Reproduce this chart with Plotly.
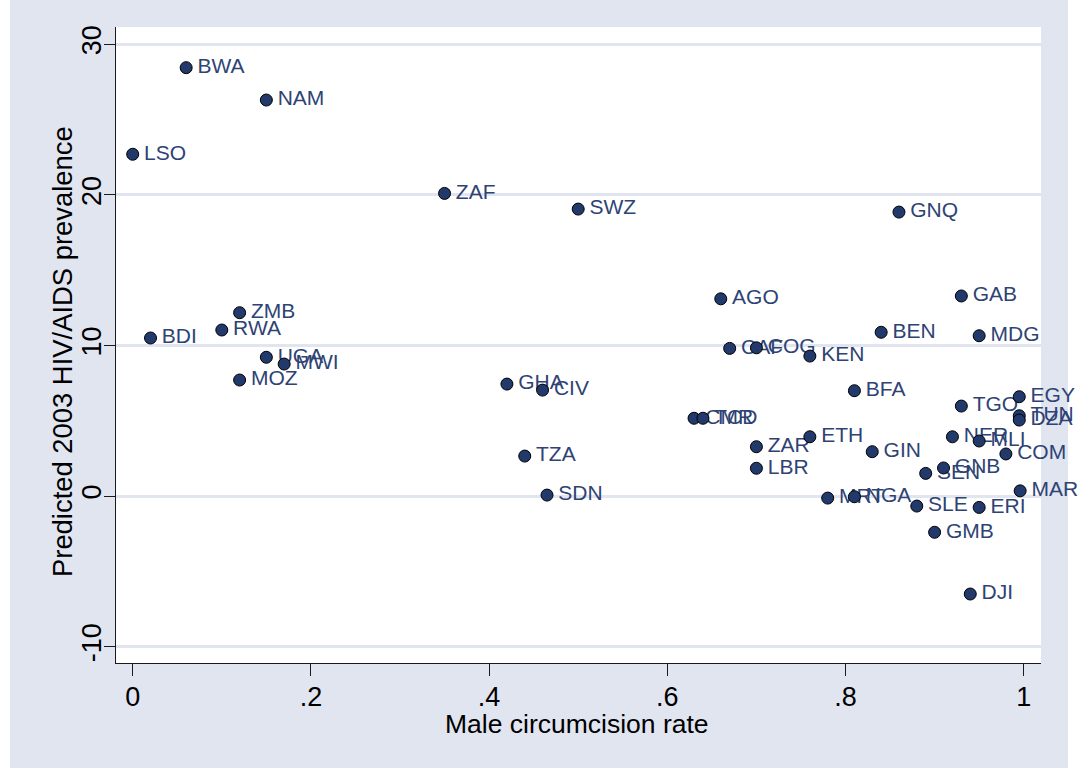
import plotly.graph_objects as go

# Country codes, male circumcision rate, predicted 2003 HIV/AIDS prevalence
countries = ["LSO", "BWA", "NAM", "ZAF", "SWZ", "GNQ", "BDI", "ZMB", "RWA", "UGA",
             "MWI", "MOZ", "GHA", "CIV", "TZA", "SDN", "AGO", "CAF", "COG", "KEN",
             "BEN", "MDG", "GAB", "BFA", "CMR", "TCD", "ZAR", "LBR", "ETH", "GIN",
             "MRT", "NGA", "EGY", "TUN", "DZA", "TGO", "NER", "MLI", "COM", "GNB",
             "SEN", "MAR", "SLE", "ERI", "GMB", "DJI"]
circ_rate = [0.00, 0.06, 0.15, 0.35, 0.50, 0.86, 0.02, 0.12, 0.10, 0.15,
             0.17, 0.12, 0.42, 0.46, 0.44, 0.465, 0.66, 0.67, 0.70, 0.76,
             0.84, 0.95, 0.93, 0.81, 0.63, 0.64, 0.70, 0.70, 0.76, 0.83,
             0.78, 0.81, 0.995, 0.995, 0.995, 0.93, 0.92, 0.95, 0.98, 0.91,
             0.89, 0.996, 0.88, 0.95, 0.90, 0.94]
hiv_pred = [22.7, 28.45, 26.3, 20.1, 19.06, 18.86, 10.5, 12.18, 11.03, 9.22,
            8.77, 7.71, 7.44, 7.04, 2.66, 0.07, 13.1, 9.81, 9.85, 9.3,
            10.88, 10.65, 13.29, 7.0, 5.17, 5.17, 3.28, 1.85, 3.94, 2.95,
            -0.13, -0.04, 6.6, 5.34, 5.05, 5.98, 3.94, 3.66, 2.8, 1.87,
            1.51, 0.35, -0.66, -0.75, -2.4, -6.5]

x_ticks = [0, 0.2, 0.4, 0.6, 0.8, 1.0]
x_ticklabels = ["0", ".2", ".4", ".6", ".8", "1"]
y_ticks = [-10, 0, 10, 20, 30]
y_ticklabels = ["-10", "0", "10", "20", "30"]
x_title = "Male circumcision rate"
y_title = "Predicted 2003 HIV/AIDS prevalence"

BG = "#E1E5F0"
GRID = "#E1E5F0"
MARKER = "#22396b"
LABEL = "#2e4374"
AXFONT = "Liberation Sans, Arial, sans-serif"
TICKSIZE = 27

fig = go.Figure()

# labels (transparent marker sets the text offset)
fig.add_trace(go.Scatter(
    x=circ_rate, y=hiv_pred, text=countries, mode="markers+text",
    textposition="middle right",
    textfont=dict(family="Liberation Sans, Arial, sans-serif", size=21, color=LABEL),
    marker=dict(size=16.5, color="rgba(0,0,0,0)", line=dict(width=0)),
    hoverinfo="skip", showlegend=False, cliponaxis=False,
))
# markers
fig.add_trace(go.Scatter(
    x=circ_rate, y=hiv_pred, mode="markers",
    marker=dict(size=12, color=MARKER, line=dict(color="#000000", width=1)),
    showlegend=False, cliponaxis=False, hovertext=countries,
))

PW, PH, ML, MT = 925, 636, 116, 27

fig.update_layout(
    width=1078, height=772,
    margin=dict(l=ML, r=1078 - ML - PW, t=MT, b=772 - MT - PH),
    paper_bgcolor=BG, plot_bgcolor="white",
    font=dict(family=AXFONT, color="black"),
    shapes=[
        dict(type="rect", xref="paper", yref="paper", x0=-0.2, x1=(10 - ML) / PW,
             y0=-0.3, y1=1.1, fillcolor="white", line=dict(width=0), layer="below"),
        dict(type="rect", xref="paper", yref="paper", x0=(1068 - ML) / PW, x1=1.1,
             y0=-0.3, y1=1.1, fillcolor="white", line=dict(width=0), layer="below"),
        dict(type="rect", xref="paper", yref="paper", x0=-0.2, x1=1.1,
             y0=-0.3, y1=(MT + PH - 768) / PH, fillcolor="white", line=dict(width=0), layer="below"),
    ],
    annotations=[
        dict(text=x_title, xref="paper", yref="paper", x=(577 - ML) / PW, y=(MT + PH - 724) / PH,
             xanchor="center", yanchor="middle", showarrow=False,
             font=dict(size=26.5, family=AXFONT, color="black")),
        dict(text=y_title, xref="paper", yref="paper", x=(62 - ML) / PW, y=(MT + PH - 352) / PH,
             xanchor="center", yanchor="middle", showarrow=False, textangle=-90,
             font=dict(size=27.4, family=AXFONT, color="black")),
    ],
    xaxis=dict(
        range=[-0.01874, 1.0194], tickvals=x_ticks, ticktext=x_ticklabels,
        showgrid=False, zeroline=False, showline=True, linecolor="#1a1a1a", linewidth=1.3,
        ticks="outside", ticklen=12, tickwidth=1.3, tickcolor="#1a1a1a",
        ticklabelstandoff=-3,
        tickfont=dict(size=TICKSIZE, family=AXFONT, color="black"),
        automargin=False, fixedrange=True,
    ),
    yaxis=dict(
        range=[-11.08, 31.15], tickvals=y_ticks, ticktext=y_ticklabels,
        showgrid=True, gridcolor=GRID, gridwidth=2.5, zeroline=False,
        showline=True, linecolor="#1a1a1a", linewidth=1.3,
        ticks="outside", ticklen=11, tickwidth=1.3, tickcolor="#1a1a1a", tickangle=-90,
        ticklabelstandoff=-8,
        tickfont=dict(size=TICKSIZE, family=AXFONT, color="black"),
        automargin=False, fixedrange=True,
    ),
)

fig.write_html("out.html", config={"displayModeBar": False},
               post_script="document.body.style.margin='0px';")
